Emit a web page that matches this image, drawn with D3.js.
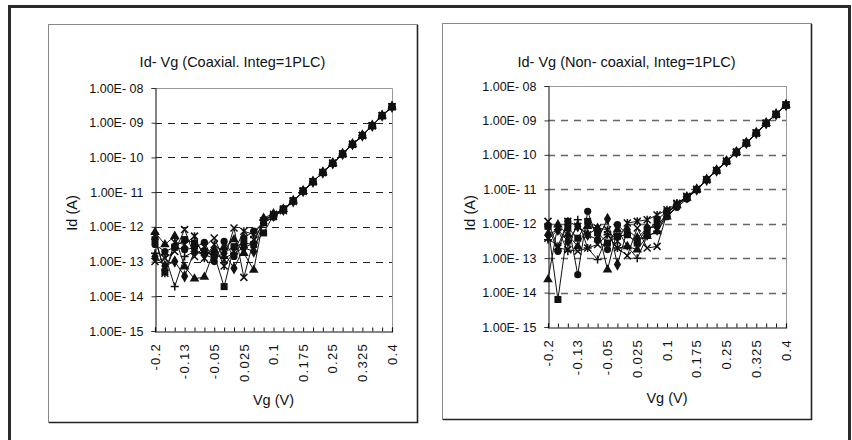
<!DOCTYPE html>
<html>
<head>
<meta charset="utf-8">
<script src="https://cdn.jsdelivr.net/npm/d3@7"></script>
<style>
  body { margin: 0; background: #fff; }
  svg text { font-family: "Liberation Sans", Arial, sans-serif; fill: #111; }
</style>
</head>
<body>
<div id="canvas"></div>
<script>
// gate voltage steps (categories on x)
var vg = [-0.2, -0.175, -0.15, -0.125, -0.1, -0.075, -0.05, -0.025, 0, 0.025, 0.05, 0.075,
          0.1, 0.125, 0.15, 0.175, 0.2, 0.225, 0.25, 0.275, 0.3, 0.325, 0.35, 0.375, 0.4];
var xTickIdx = [0, 3, 6, 9, 12, 15, 18, 21, 24];
var xTickLabels = ["-0.2", "-0.13", "-0.05", "0.025", "0.1", "0.175", "0.25", "0.325", "0.4"];
var yTicks = [1e-15, 1e-14, 1e-13, 1e-12, 1e-11, 1e-10, 1e-9, 1e-8];
var yTickLabels = ["1.00E- 15", "1.00E- 14", "1.00E- 13", "1.00E- 12", "1.00E- 11", "1.00E- 10", "1.00E- 09", "1.00E- 08"];

// coaxial, Id (A)
var coaxDiamond = [1.4e-13, 7.5e-14, 1.0e-13, 3.8e-14, 1.95e-13, 1.56e-13, 1.25e-13, 1.75e-13, 6.4e-14, 2.5e-13, 1.95e-13, 1.5e-12, 2.1e-12, 3.1e-12, 5.5e-12, 1.07e-11, 2.0e-11, 3.7e-11, 6.8e-11, 1.26e-10, 2.4e-10, 4.3e-10, 8.2e-10, 1.6e-9, 2.9e-9];
var coaxSquare  = [4.3e-13, 5.1e-14, 2.6e-13, 4.3e-13, 3.4e-13, 1.95e-13, 1.56e-13, 1.9e-14, 2.7e-13, 3.4e-13, 3.1e-13, 6.7e-13, 2.2e-12, 3.3e-12, 5.6e-12, 1.08e-11, 2.0e-11, 3.7e-11, 6.8e-11, 1.27e-10, 2.4e-10, 4.3e-10, 8.2e-10, 1.6e-9, 2.9e-9];
var coaxTri     = [7.0e-13, 3.1e-13, 5.4e-13, 7.1e-14, 3.2e-14, 3.6e-14, 2.2e-13, 2.5e-13, 4.3e-13, 1.75e-13, 5.7e-14, 1.8e-12, 2.4e-12, 3.2e-12, 5.7e-12, 1.07e-11, 2.0e-11, 3.7e-11, 6.8e-11, 1.26e-10, 2.4e-10, 4.3e-10, 8.2e-10, 1.6e-9, 2.9e-9];
var coaxX       = [1.0e-13, 1.25e-13, 1.95e-13, 8.4e-13, 1.4e-13, 2.7e-13, 4.8e-13, 1.12e-13, 9.3e-13, 3.5e-14, 4.3e-13, 1.3e-12, 2.0e-12, 2.9e-12, 5.5e-12, 1.06e-11, 2.0e-11, 3.7e-11, 6.8e-11, 1.26e-10, 2.4e-10, 4.3e-10, 8.2e-10, 1.6e-9, 2.9e-9];
var coaxStar    = [5.4e-13, 4.6e-14, 3.6e-13, 3.1e-13, 5.4e-13, 1.25e-13, 3.1e-13, 7.5e-14, 1.95e-13, 7.5e-13, 6.0e-13, 1.5e-12, 2.3e-12, 3.2e-12, 5.6e-12, 1.07e-11, 2.0e-11, 3.7e-11, 6.8e-11, 1.26e-10, 2.4e-10, 4.3e-10, 8.2e-10, 1.6e-9, 2.9e-9];
var coaxCircle  = [3.1e-13, 1.95e-13, 2.6e-13, 2.2e-13, 2.5e-13, 3.6e-13, 1.0e-13, 3.8e-13, 1.4e-13, 4.8e-13, 7.5e-13, 1.3e-12, 1.9e-12, 3.1e-12, 5.6e-12, 1.07e-11, 2.0e-11, 3.7e-11, 6.8e-11, 1.26e-10, 2.4e-10, 4.3e-10, 8.2e-10, 1.6e-9, 2.9e-9];
var coaxPlus    = [1.75e-13, 1.56e-13, 1.9e-14, 1.4e-13, 1.95e-13, 1.75e-13, 1.56e-13, 1.25e-13, 1.75e-13, 2.5e-13, 3.4e-13, 1.6e-12, 2.2e-12, 3.2e-12, 5.6e-12, 1.07e-11, 2.0e-11, 3.7e-11, 6.8e-11, 1.26e-10, 2.4e-10, 4.3e-10, 8.2e-10, 1.6e-9, 2.9e-9];

// non-coaxial, Id (A)
var ncDiamond = [4.8e-13, 6.7e-13, 3.1e-13, 8.4e-13, 4.8e-13, 3.4e-13, 1.37e-12, 6.5e-14, 6.7e-13, 3.8e-13, 7.5e-13, 8.4e-13, 2.0e-12, 3.5e-12, 5.9e-12, 9.8e-12, 1.9e-11, 3.5e-11, 6.5e-11, 1.2e-10, 2.2e-10, 4.3e-10, 8.3e-10, 1.5e-9, 2.8e-9];
var ncSquare  = [8.4e-13, 6.3e-15, 7.5e-13, 3.8e-13, 1.17e-12, 5.4e-13, 2.75e-13, 4.3e-13, 4.8e-13, 2.75e-13, 5.4e-13, 1.3e-12, 2.3e-12, 3.6e-12, 5.9e-12, 9.8e-12, 1.9e-11, 3.5e-11, 6.5e-11, 1.2e-10, 2.2e-10, 4.3e-10, 8.3e-10, 1.5e-9, 2.8e-9];
var ncTri     = [2.4e-14, 9.4e-13, 4.8e-13, 2.2e-13, 8.4e-13, 7.5e-13, 4.6e-14, 6.7e-13, 2.2e-13, 1.77e-13, 4.3e-13, 6.0e-13, 1.6e-12, 3.4e-12, 5.6e-12, 9.8e-12, 1.9e-11, 3.5e-11, 6.5e-11, 1.2e-10, 2.2e-10, 4.3e-10, 8.3e-10, 1.5e-9, 2.8e-9];
var ncX       = [1.17e-12, 1.96e-13, 1.77e-13, 1.58e-13, 1.96e-13, 2.5e-13, 4.8e-13, 1.96e-13, 1.18e-13, 7.5e-13, 1.96e-13, 2.2e-13, 2.0e-12, 3.8e-12, 6.3e-12, 1.0e-11, 1.9e-11, 3.5e-11, 6.5e-11, 1.2e-10, 2.2e-10, 4.3e-10, 8.3e-10, 1.5e-9, 2.8e-9];
var ncStar    = [3.8e-13, 2.2e-13, 1.17e-12, 8.4e-13, 4.8e-13, 7.5e-13, 6.7e-13, 3.1e-13, 1.05e-12, 1.17e-12, 1.3e-12, 1.8e-12, 2.55e-12, 3.9e-12, 6.0e-12, 9.8e-12, 1.9e-11, 3.5e-11, 6.5e-11, 1.2e-10, 2.2e-10, 4.3e-10, 8.3e-10, 1.5e-9, 2.8e-9];
var ncCircle  = [8.4e-13, 1.58e-13, 1.17e-12, 3.3e-14, 2.3e-12, 3.4e-13, 1.77e-13, 9.4e-13, 4.8e-13, 2.75e-13, 7.5e-13, 8.4e-13, 1.6e-12, 3.0e-12, 5.2e-12, 9.8e-12, 1.9e-11, 3.5e-11, 6.5e-11, 1.2e-10, 2.2e-10, 4.3e-10, 8.3e-10, 1.5e-9, 2.8e-9];
var ncPlus    = [3.4e-13, 6.7e-13, 1.58e-13, 1.3e-12, 1.96e-13, 9.1e-14, 4.8e-13, 1.96e-13, 2.2e-13, 1.0e-13, 4.3e-13, 6.0e-13, 2.0e-12, 3.6e-12, 6.1e-12, 9.8e-12, 1.9e-11, 3.5e-11, 6.5e-11, 1.2e-10, 2.2e-10, 4.3e-10, 8.3e-10, 1.5e-9, 2.8e-9];

var markers = ["diamond", "square", "triangle", "x", "star", "circle", "plus"];

const svg = d3.select("#canvas")
    .append("svg")
    .attr("width", 852)
    .attr("height", 440);

svg.append("rect").attr("width", 852).attr("height", 440).attr("fill", "#fff");

//OUTER FRAME
svg.append("rect")
    .attr("x", 9.5).attr("y", 6.5)
    .attr("width", 840).attr("height", 445)
    .attr("fill", "none")
    .attr("stroke", "#2a2a2a")
    .attr("stroke-width", 3);

//DRAWS ONE MARKER AT (x, y)
function drawMarker(g, kind, x, y) {
    var s = 3.5;
    if (kind == "diamond") {
        g.append("path").attr("d", d3.symbol(d3.symbolDiamond, 45)()).attr("transform", "translate(" + x + "," + y + ")").attr("fill", "#111");
    } else if (kind == "square") {
        g.append("rect").attr("x", x - 3.5).attr("y", y - 3.5).attr("width", 7).attr("height", 7).attr("fill", "#111");
    } else if (kind == "triangle") {
        g.append("path").attr("d", d3.symbol(d3.symbolTriangle, 40)()).attr("transform", "translate(" + x + "," + y + ")").attr("fill", "#111");
    } else if (kind == "circle") {
        g.append("circle").attr("cx", x).attr("cy", y).attr("r", 3.6).attr("fill", "#111");
    } else {
        var d = "";
        if (kind == "x" || kind == "star") d += "M" + (x - s) + "," + (y - s) + "L" + (x + s) + "," + (y + s) + "M" + (x - s) + "," + (y + s) + "L" + (x + s) + "," + (y - s);
        if (kind == "star") d += "M" + x + "," + (y - s - 0.5) + "L" + x + "," + (y + s + 0.5);
        if (kind == "plus") d += "M" + (x - s - 0.5) + "," + y + "L" + (x + s + 0.5) + "," + y + "M" + x + "," + (y - s - 0.5) + "L" + x + "," + (y + s + 0.5);
        g.append("path").attr("d", d).attr("stroke", "#111").attr("stroke-width", 1.5).attr("fill", "none");
    }
}

//DRAWS ONE CHART PANEL
function drawChart(cfg) {
    var p = cfg.panel;
    var g = svg.append("g");

    g.append("rect")
        .attr("x", p.x + 0.5).attr("y", p.y + 0.5)
        .attr("width", p.w).attr("height", p.h)
        .attr("fill", "#fff")
        .attr("stroke", "#888")
        .attr("stroke-width", 1);
    g.append("path")
        .attr("d", "M" + (p.x + p.w + 0.5) + "," + (p.y + 1) + "V" + (p.y + p.h + 0.5) + "H" + (p.x + 1))
        .attr("stroke", "#222").attr("stroke-width", 1.6).attr("fill", "none");

    g.append("text")
        .attr("x", p.x + p.w / 2).attr("y", cfg.titleY)
        .attr("text-anchor", "middle")
        .attr("font-size", 14.5)
        .text(cfg.title);

    var x = d3.scalePoint().domain(d3.range(vg.length)).range([cfg.plot.l, cfg.plot.r]);
    var y = d3.scaleLog().domain([1e-15, 1e-8]).range([cfg.plot.b, cfg.plot.t]);

    //PLOT BORDER (top and right)
    g.append("path")
        .attr("d", "M" + cfg.plot.l + "," + (cfg.plot.t + 0.5) + "H" + (cfg.plot.r + 0.5) + "V" + cfg.plot.b)
        .attr("stroke", "#999").attr("fill", "none");

    //GRIDLINES
    yTicks.slice(1, yTicks.length - 1).forEach(function(t) {
        g.append("line")
            .attr("x1", cfg.plot.l).attr("x2", cfg.plot.r)
            .attr("y1", Math.round(y(t)) + 0.5).attr("y2", Math.round(y(t)) + 0.5)
            .attr("stroke", cfg.gridColor)
            .attr("stroke-width", cfg.gridWidth)
            .attr("stroke-dasharray", "7,6");
    });

    //Y AXIS
    var yAxis = d3.axisLeft(y).tickValues(yTicks).tickSize(4).tickPadding(8)
        .tickFormat(function(d, i) { return yTickLabels[i]; });
    var ya = g.append("g").attr("transform", "translate(" + (cfg.plot.l + 0.5) + ",0)").call(yAxis);
    ya.select(".domain").attr("stroke", "#333").attr("stroke-width", 1.2);
    ya.selectAll(".tick line").attr("stroke", "#333");
    ya.selectAll("text").attr("font-size", 12.5).attr("fill", "#111");

    //X AXIS (ticks point inward)
    var xAxis = d3.axisBottom(x).tickSize(-4).tickFormat("");
    var xa = g.append("g").attr("transform", "translate(0," + (cfg.plot.b + 0.5) + ")").call(xAxis);
    xa.select(".domain").attr("stroke", "#111").attr("stroke-width", 1.2);
    xa.selectAll(".tick line").attr("stroke", "#111");

    xTickIdx.forEach(function(idx, i) {
        g.append("text")
            .attr("transform", "translate(" + x(idx) + "," + (cfg.plot.b + 12) + ") rotate(-90)")
            .attr("text-anchor", "end")
            .attr("dy", "0.36em")
            .attr("font-size", 13)
            .attr("letter-spacing", 1.3)
            .text(xTickLabels[i]);
    });

    g.append("text")
        .attr("x", (cfg.plot.l + cfg.plot.r) / 2).attr("y", cfg.xLabelY)
        .attr("text-anchor", "middle")
        .attr("font-size", 14.5)
        .text("Vg (V)");

    g.append("text")
        .attr("transform", "translate(" + cfg.yLabelX + ",213) rotate(-90)")
        .attr("text-anchor", "middle")
        .attr("dy", "0.35em")
        .attr("font-size", 14.5)
        .text("Id (A)");

    //SERIES
    var line = d3.line().x(function(d, i) { return x(i); }).y(function(d) { return y(d); });
    cfg.series.forEach(function(s) {
        g.append("path").datum(s).attr("d", line)
            .attr("fill", "none").attr("stroke", "#111").attr("stroke-width", 1);
    });
    cfg.series.forEach(function(s, k) {
        s.forEach(function(v, i) {
            drawMarker(g, markers[k], x(i), y(v));
        });
    });
}

drawChart({
    panel: { x: 48, y: 24, w: 369, h: 398 },
    plot: { l: 155, r: 392, t: 88, b: 331 },
    title: "Id- Vg (Coaxial. Integ=1PLC)",
    titleY: 67,
    xLabelY: 405,
    yLabelX: 72,
    gridColor: "#222",
    gridWidth: 1,
    series: [coaxDiamond, coaxSquare, coaxTri, coaxX, coaxStar, coaxCircle, coaxPlus]
});

drawChart({
    panel: { x: 442, y: 23, w: 369, h: 396 },
    plot: { l: 548, r: 786, t: 86, b: 327 },
    title: "Id- Vg (Non- coaxial, Integ=1PLC)",
    titleY: 67,
    xLabelY: 403,
    yLabelX: 470,
    gridColor: "#666",
    gridWidth: 1.5,
    series: [ncDiamond, ncSquare, ncTri, ncX, ncStar, ncCircle, ncPlus]
});
</script>
</body>
</html>
